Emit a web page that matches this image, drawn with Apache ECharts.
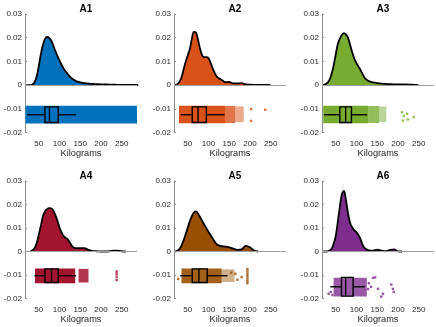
<!DOCTYPE html>
<html>
<head>
<meta charset="utf-8">
<script src="https://cdn.jsdelivr.net/npm/echarts@6/dist/echarts.min.js"></script>
<style>
html, body { margin: 0; padding: 0; background: #fff; }
#chart { width: 436px; height: 327px; }
</style>
</head>
<body>
<div id="chart"></div>
<script>
// panels
const titles = ['A1', 'A2', 'A3', 'A4', 'A5', 'A6']
const colors = ['#0072BD', '#D95319', '#77AC30', '#A2142F', '#994F00', '#7E2F8E']
const kgTicks = [50, 100, 150, 200, 250]
const yTicks = [-0.02, -0.01, 0, 0.01, 0.02, 0.03]

// x grid (kg) of the density curves
const kg = [20, 25, 30, 35, 40, 45, 50, 55, 60, 65, 70, 75, 80, 85, 90, 95, 100, 105, 110, 115, 120, 125, 130, 135, 140,
    150, 160, 170, 180, 190, 200, 210, 220, 230, 240, 250, 260, 270, 280, 290]

// density
const densA1 = [0, 0, 0, 0.0003, 0.0012, 0.0035, 0.0078, 0.0128, 0.0168, 0.0194, 0.0203, 0.0200, 0.0188, 0.0168, 0.0145, 0.0124, 0.0104, 0.0086, 0.0070, 0.0057, 0.0046, 0.0036, 0.0028, 0.0022, 0.0017,
    0.0011, 0.0008, 0.0006, 0.0005, 0.0004, 0.0003, 0.0003, 0.0002, 0.0002, 0.0001, 0.0001, 0.0001, 0.0001, 0.0001, 0]
const densA2 = [0, 0.0004, 0.0013, 0.0032, 0.0065, 0.0097, 0.0125, 0.0150, 0.0195, 0.0225, 0.0222, 0.0190, 0.0152, 0.0125, 0.0118, 0.0118, 0.0114, 0.0095, 0.0072, 0.0052, 0.0036, 0.0029, 0.0024, 0.0018, 0.0012,
    0.0013, 0.0007, 0.0007, 0.0008, 0.0003, 0.0002, 0.0001, 0.0001, 0.0001, 0.0001, 0, null, null, null, null]
const densA3 = [0, 0.0003, 0.0009, 0.0022, 0.0046, 0.0082, 0.0128, 0.0172, 0.0196, 0.0212, 0.0219, 0.0213, 0.0198, 0.0168, 0.0138, 0.0111, 0.0093, 0.0078, 0.0063, 0.0046, 0.0030, 0.0022, 0.0017, 0.0014, 0.0011,
    0.0008, 0.0006, 0.0005, 0.0004, 0.0003, 0.0003, 0.0003, 0.0003, 0.0002, 0.0001, 0, null, null, null, null]
const densA4 = [null, null, 0.0001, 0.0005, 0.0014, 0.0035, 0.0070, 0.0108, 0.0148, 0.0170, 0.0180, 0.0185, 0.0184, 0.0175, 0.0156, 0.0132, 0.0103, 0.0082, 0.0066, 0.0058, 0.0052, 0.0038, 0.0024, 0.0016, 0.0014,
    0.0014, 0.0014, 0.0007, 0.0002, 0.0001, 0, 0, 0.0001, 0.0004, 0.0004, 0.0001, 0, null, null, null]
const densA5 = [0, 0.0003, 0.0010, 0.0025, 0.0047, 0.0073, 0.0101, 0.0128, 0.0150, 0.0166, 0.0171, 0.0161, 0.0146, 0.0130, 0.0114, 0.0099, 0.0084, 0.0070, 0.0056, 0.0042, 0.0031, 0.0026, 0.0023, 0.0022, 0.0021,
    0.0018, 0.0012, 0.0007, 0.0009, 0.0024, 0.0018, 0.0004, 0, null, null, null, null, null, null, null]
const densA6 = [0, 0, 0.0001, 0.0004, 0.0011, 0.0032, 0.0065, 0.0125, 0.0190, 0.0245, 0.0258, 0.0215, 0.0160, 0.0120, 0.0102, 0.0090, 0.0082, 0.0069, 0.0052, 0.0028, 0.0014, 0.0008, 0.0005, 0.0004, 0.0004,
    0.0008, 0.0004, 0.0001, 0.0006, 0.0009, 0.0001, 0, null, null, null, null, null, null, null, null]
const densities = [densA1, densA2, densA3, densA4, densA5, densA6]

// box plots: quartiles, whiskers, vertical position and half height
const q1 = [65, 61, 60, 65, 61, 64]
const median = [76, 75, 74, 81, 77, 74]
const q3 = [97, 95, 88, 97, 97, 92]
const whiskLo = [22, 33, 22, 40, 32, 37]
const whiskHi = [140, 139, 126, 140, 146, 120]
const boxMid = [-0.0125, -0.0125, -0.0125, -0.0103, -0.0103, -0.015]
const boxHalf = [0.0033, 0.0033, 0.0033, 0.0029, 0.0029, 0.004]

// rain: dense stretches of jittered points [from, to, top, bottom, density]
const rainA1 = [[18, 287, -0.0087, -0.0162, 1]]
const rainA2 = [[29, 140, -0.0087, -0.0161, 1], [140, 165, -0.0088, -0.016, 0.8], [165, 185, -0.009, -0.0156, 0.5]]
const rainA3 = [[20, 128, -0.0087, -0.0161, 1], [128, 155, -0.0088, -0.016, 0.8], [155, 172, -0.009, -0.0156, 0.5]]
const rainA4 = [[41, 138, -0.0072, -0.0135, 1], [146, 170, -0.0074, -0.0132, 0.85]]
const rainA5 = [[35, 132, -0.0072, -0.0135, 0.9], [132, 163, -0.0076, -0.013, 0.45]]
const rainA6 = [[45, 125, -0.0112, -0.0192, 0.8]]
const rains = [rainA1, rainA2, rainA3, rainA4, rainA5, rainA6]

// lone points of the rain
const dropsA1 = []
const dropsA2 = [[203, -0.0101], [203, -0.0151], [237, -0.0104]]
const dropsA3 = [[210, -0.0115], [214, -0.013], [222, -0.0121], [224, -0.0145], [238, -0.0135], [212, -0.015]]
const dropsA4 = [[238, -0.0085], [238, -0.0095], [238, -0.0107], [238, -0.0121]]
const dropsA5 = [[194, -0.0075], [194, -0.0085], [194, -0.0095], [194, -0.0105], [194, -0.0115], [194, -0.0125], [194, -0.0135],
    [180, -0.0109], [27, -0.0117], [165, -0.0095], [170, -0.012], [155, -0.009]]
const dropsA6 = [[33, -0.018], [38, -0.0172], [42, -0.0185], [140, -0.0112], [145, -0.011], [152, -0.0159], [160, -0.0192],
    [164, -0.018], [184, -0.0141], [188, -0.0159], [190, -0.0172], [130, -0.0135], [128, -0.016], [135, -0.015]]
const drops = [dropsA1, dropsA2, dropsA3, dropsA4, dropsA5, dropsA6]

const font = "'Liberation Sans', Arial, Helvetica, sans-serif"
const lefts = [25, 174, 322]
const tops = [14, 181]
const heights = [118.5, 117.5]
const plotW = 112

let chart = echarts.init(document.getElementById('chart'))

function renderRain(params, api) {
    let p0 = api.coord([api.value(0), api.value(2)])
    let p1 = api.coord([api.value(1), api.value(3)])
    return {
        type: 'rect',
        shape: {x: p0[0], y: p0[1], width: p1[0] - p0[0], height: p1[1] - p0[1]},
        style: {fill: api.visual('color'), opacity: api.value(4)}
    }
}

function renderBox(params, api) {
    let mid = api.value(5), half = api.value(6)
    let lo = api.coord([api.value(3), mid])
    let a = api.coord([api.value(0), mid + half])
    let m1 = api.coord([api.value(1), mid + half])
    let m2 = api.coord([api.value(1), mid - half])
    let b = api.coord([api.value(2), mid - half])
    let hi = api.coord([api.value(4), mid])
    let st = {stroke: '#000', lineWidth: 1.4, fill: null}
    return {
        type: 'group',
        children: [
            {type: 'line', shape: {x1: lo[0], y1: lo[1], x2: a[0], y2: lo[1]}, style: st},
            {type: 'line', shape: {x1: b[0], y1: hi[1], x2: hi[0], y2: hi[1]}, style: st},
            {type: 'rect', shape: {x: a[0], y: a[1], width: b[0] - a[0], height: b[1] - a[1]}, style: st},
            {type: 'line', shape: {x1: m1[0], y1: m1[1], x2: m2[0], y2: m2[1]}, style: st}
        ]
    }
}

let grids = [], xAxes = [], yAxes = [], series = [], titleList = []
for (let i = 0; i < 6; i++) {
    let col = i % 3, row = Math.floor(i / 3)
    grids.push({left: lefts[col], top: tops[row], width: plotW, height: heights[row]})
    titleList.push({
        text: titles[i], left: lefts[col] + plotW / 2, top: tops[row] - 14.5, textAlign: 'center',
        textStyle: {fontFamily: font, fontSize: 10, fontWeight: 'bold', color: '#000'}
    })
    xAxes.push({
        type: 'value', gridIndex: i, min: 17, max: 287,
        name: 'Kilograms', nameLocation: 'middle', nameGap: 16,
        nameTextStyle: {fontFamily: font, fontSize: 9.2, color: '#262626'},
        axisLine: {show: false},
        axisTick: {show: false},
        splitLine: {show: false},
        axisLabel: {customValues: kgTicks, margin: 7, fontFamily: font, fontSize: 8, color: '#262626'}
    })
    yAxes.push({
        type: 'value', gridIndex: i, min: -0.02, max: 0.03, interval: 0.01,
        axisLine: {show: true, lineStyle: {color: '#8c8c8c', width: 1}},
        axisTick: {show: true, inside: true, length: 2, lineStyle: {color: '#8c8c8c'}},
        splitLine: {show: false},
        axisLabel: {
            customValues: yTicks, margin: 3, fontFamily: font, fontSize: 8, color: '#262626',
            formatter: v => Math.abs(v) < 1e-9 ? '0' : String(+v.toFixed(2))
        }
    })
    // grey zero line
    series.push({
        type: 'line', xAxisIndex: i, yAxisIndex: i, data: [], z: 1,
        markLine: {
            silent: true, symbol: 'none', label: {show: false}, animation: false,
            lineStyle: {color: '#a0a0a0', width: 1, type: 'solid'},
            data: [{yAxis: 0}]
        }
    })
    // cloud
    let pts = []
    kg.forEach((x, k) => {
        if (densities[i][k] !== null) pts.push([x, densities[i][k]])
    })
    series.push({
        type: 'line', xAxisIndex: i, yAxisIndex: i, data: pts, smooth: 0.35, showSymbol: false, z: 3,
        lineStyle: {color: '#000', width: 1.8},
        areaStyle: {color: colors[i], opacity: 1, origin: 'auto'},
        animation: false
    })
    // rain
    series.push({
        type: 'custom', xAxisIndex: i, yAxisIndex: i, data: rains[i], renderItem: renderRain,
        itemStyle: {color: colors[i]}, z: 2, animation: false
    })
    series.push({
        type: 'scatter', xAxisIndex: i, yAxisIndex: i, data: drops[i], symbol: 'rect', symbolSize: 2.4,
        itemStyle: {color: colors[i]}, z: 2, animation: false
    })
    // box
    series.push({
        type: 'custom', xAxisIndex: i, yAxisIndex: i,
        data: [[q1[i], median[i], q3[i], whiskLo[i], whiskHi[i], boxMid[i], boxHalf[i]]],
        renderItem: renderBox, z: 4, animation: false
    })
}

chart.setOption({
    animation: false,
    title: titleList,
    grid: grids,
    xAxis: xAxes,
    yAxis: yAxes,
    series: series
})
</script>
</body>
</html>
